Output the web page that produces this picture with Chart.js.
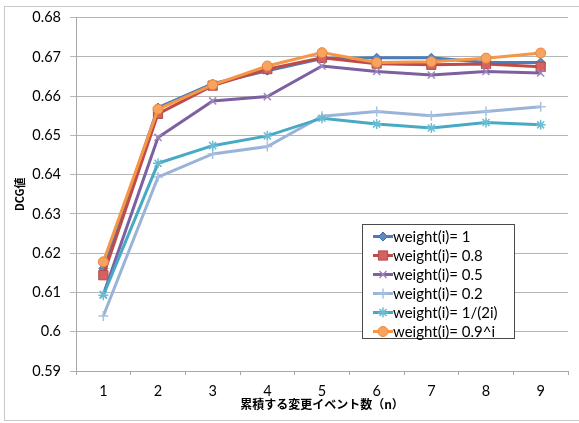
<!DOCTYPE html>
<html>
<head>
<meta charset="utf-8">
<script src="https://cdn.jsdelivr.net/npm/chart.js@4/dist/chart.umd.min.js"></script>
<style>
  html, body { margin: 0; padding: 0; background: #ffffff; }
  #wrap { width: 579px; height: 423px; position: relative; }
</style>
</head>
<body>
<div id="wrap"><canvas id="c" width="579" height="423"></canvas></div>
<script>
// Number of accumulated change events (x axis)
const categories = ['1', '2', '3', '4', '5', '6', '7', '8', '9'];

// Series names
const seriesLabels = [
  'weight(i)= 1',
  'weight(i)= 0.8',
  'weight(i)= 0.5',
  'weight(i)= 0.2',
  'weight(i)= 1/(2i)',
  'weight(i)= 0.9^i'
];

// DCG values per weighting scheme
const weight1      = [0.6161, 0.6571, 0.6632, 0.6665, 0.6696, 0.6698, 0.6698, 0.6686, 0.6686];
const weight08     = [0.6144, 0.6555, 0.6627, 0.6669, 0.6698, 0.6683, 0.6680, 0.6682, 0.6675];
const weight05     = [0.6095, 0.6495, 0.6588, 0.6599, 0.6677, 0.6663, 0.6654, 0.6663, 0.6659];
const weight02     = [0.6040, 0.6394, 0.6453, 0.6472, 0.6549, 0.6561, 0.6550, 0.6561, 0.6573];
const weightHalfI  = [0.6093, 0.6429, 0.6474, 0.6499, 0.6544, 0.6529, 0.6519, 0.6533, 0.6527];
const weightPow09  = [0.6178, 0.6567, 0.6629, 0.6677, 0.6711, 0.6686, 0.6688, 0.6697, 0.6710];

// Value axis range
const yMin = 0.59, yMax = 0.68, yStep = 0.01;

// Axis titles
const xTitle = '累積する変更イベント数（n）';
const yTitle = 'DCG値';

const seriesValues = [weight1, weight08, weight05, weight02, weightHalfI, weightPow09];

const styles = [
  { line: '#4A7EBB', fill: '#5B8BC7', edge: '#3E6DA8', point: 'rectRot',  r: 4.5, bw: 1 },
  { line: '#BE4B48', fill: '#D5625E', edge: '#B14A47', point: 'rect',     r: 6.5, bw: 1 },
  { line: '#7D60A0', fill: '#9D88BB', edge: '#9D88BB', point: 'crossRot', r: 5,   bw: 1.5 },
  { line: '#9AB3D8', fill: '#A9C0E0', edge: '#A9C0E0', point: 'cross',    r: 5,   bw: 1.5 },
  { line: '#46AAC5', fill: '#6BBCD1', edge: '#6BBCD1', point: 'star',     r: 5,   bw: 1.5 },
  { line: '#F79646', fill: '#F9A45E', edge: '#E8883C', point: 'circle',   r: 5,   bw: 1 }
];

const datasets = seriesValues.map((vals, i) => ({
  label: seriesLabels[i],
  data: vals,
  borderColor: styles[i].line,
  borderWidth: 3,
  backgroundColor: styles[i].fill,
  pointStyle: styles[i].point,
  pointRadius: styles[i].r,
  pointBackgroundColor: styles[i].fill,
  pointBorderColor: styles[i].edge,
  pointBorderWidth: styles[i].bw,
  tension: 0,
  fill: false,
  order: seriesValues.length - i
}));

// Outer frame plus a boxed legend placed inside the plot area
const frameAndLegend = {
  id: 'frameAndLegend',
  beforeDraw(chart) {
    const ctx = chart.ctx;
    ctx.save();
    ctx.fillStyle = '#ffffff';
    ctx.fillRect(0, 0, chart.width, chart.height);
    ctx.strokeStyle = '#c9c9c9';
    ctx.lineWidth = 1;
    ctx.strokeRect(4.5, 6.5, chart.width + 10, 414);
    ctx.restore();
  },
  afterDatasetsDraw(chart) {
    const ctx = chart.ctx;
    const box = { x: 362.5, y: 224.5, w: 152, h: 114 };
    ctx.save();
    ctx.fillStyle = '#ffffff';
    ctx.fillRect(box.x, box.y, box.w, box.h);
    ctx.strokeStyle = '#4a4a4a';
    ctx.lineWidth = 1;
    ctx.strokeRect(box.x, box.y, box.w, box.h);
    ctx.font = '15px Lato';
    ctx.textBaseline = 'middle';
    ctx.textAlign = 'left';
    chart.data.datasets.forEach((ds, i) => {
      const cy = 236.5 + i * 19;
      ctx.strokeStyle = ds.borderColor;
      ctx.lineWidth = 3;
      ctx.beginPath();
      ctx.moveTo(373, cy);
      ctx.lineTo(393, cy);
      ctx.stroke();
      ctx.fillStyle = ds.pointBackgroundColor;
      ctx.strokeStyle = ds.pointBorderColor;
      ctx.lineWidth = ds.pointBorderWidth;
      Chart.helpers.drawPoint(ctx, {
        pointStyle: ds.pointStyle,
        radius: ds.pointRadius,
        rotation: 0,
        borderWidth: ds.pointBorderWidth
      }, 383, cy);
      ctx.fillStyle = '#000000';
      ctx.fillText(ds.label, 393, cy + 1);
    });
    ctx.restore();
  }
};

new Chart(document.getElementById('c'), {
  type: 'line',
  data: { labels: categories, datasets: datasets },
  plugins: [frameAndLegend],
  options: {
    responsive: false,
    animation: false,
    devicePixelRatio: 1,
    layout: { padding: { left: 6, right: 11, top: 17, bottom: 4 } },
    plugins: {
      legend: { display: false },
      tooltip: { enabled: false }
    },
    scales: {
      x: {
        type: 'category',
        offset: true,
        afterFit(scale) { scale.height = 48; },
        grid: {
          display: true,
          drawOnChartArea: false,
          drawTicks: true,
          tickLength: 4,
          offset: true,
          color: '#a8a8a8'
        },
        border: { display: true, color: '#a8a8a8', width: 1 },
        ticks: {
          color: '#000000',
          font: { family: 'Lato', size: 14.5 },
          padding: 8,
          maxRotation: 0
        },
        title: {
          display: true,
          text: xTitle,
          color: '#000000',
          font: { family: '"Noto Sans CJK JP"', size: 12, weight: 'bold' },
          padding: { top: 0, bottom: 7 }
        }
      },
      y: {
        min: yMin,
        max: yMax,
        afterFit(scale) { scale.width = 70; },
        grid: {
          color: '#b5b5b5',
          lineWidth: 1,
          drawTicks: true,
          tickLength: 6
        },
        border: { display: true, color: '#a8a8a8', width: 1 },
        ticks: {
          stepSize: yStep,
          color: '#000000',
          font: { family: 'Lato', size: 14.5 },
          padding: 9,
          callback: v => String(parseFloat(Number(v).toFixed(2)))
        },
        title: {
          display: true,
          text: yTitle,
          color: '#000000',
          font: { family: '"Noto Sans CJK JP"', size: 11, weight: 'bold' },
          padding: { top: 7, bottom: 0 }
        }
      }
    }
  }
});
</script>
</body>
</html>
